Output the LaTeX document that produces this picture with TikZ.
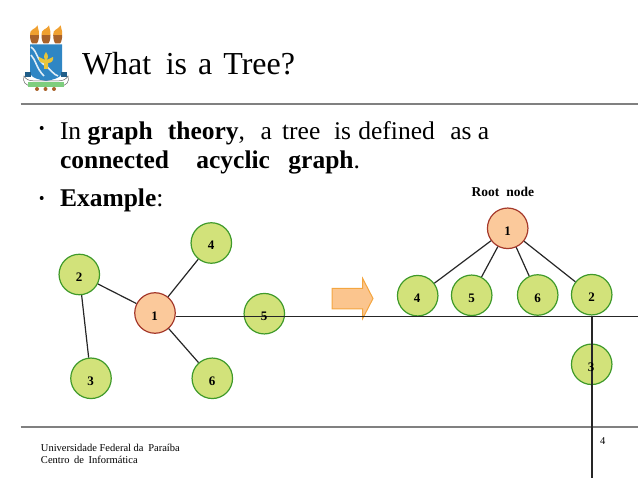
\documentclass[tikz,border=0pt]{standalone}
\usepackage{fontspec}
\setmainfont{Liberation Serif}
\usetikzlibrary{calc}
\definecolor{leaf}{HTML}{D2E27A}
\definecolor{leafline}{HTML}{3F9A2A}
\definecolor{rootf}{HTML}{FBC99B}
\definecolor{rootl}{HTML}{A5392B}
\definecolor{arrowf}{HTML}{FBC58E}
\definecolor{arrowl}{HTML}{F4A640}
\definecolor{rulec}{HTML}{808080}
\definecolor{shield}{HTML}{2F86C4}
\definecolor{torch}{HTML}{A9622A}
\definecolor{flame}{HTML}{F0A030}
\definecolor{gold}{HTML}{E8C53A}
\newcommand{\gap}[1]{\hspace{#1pt}}
\tikzset{
  leafn/.style={circle,draw=leafline,fill=leaf,line width=1.2pt,minimum size=40.5pt,inner sep=0pt},
  rootn/.style={circle,draw=rootl,fill=rootf,line width=1.2pt,minimum size=40.5pt,inner sep=0pt},
  edge/.style={black!85,line width=1.2pt},
  rulel/.style={rulec,line width=1.5pt},
  txt/.style={anchor=base west,inner sep=0pt,outer sep=0pt},
  num/.style={inner sep=0pt,font=\fontsize{13}{13}\selectfont\bfseries},
  bodyt/.style={txt,font=\fontsize{25.5}{25.5}\selectfont},
  foot/.style={txt,font=\fontsize{10.5}{10.5}\selectfont},
  bul/.style={circle,fill=black,inner sep=0pt,minimum size=4pt},
}
\begin{document}
\begin{tikzpicture}[x=1pt,y=-1pt]
\useasboundingbox (0,0) rectangle (638,478);
% header / footer rules
\coordinate (tl) at (20.7,104); \coordinate (tr) at (638,104);
\coordinate (fl) at (20.7,427); \coordinate (fr) at (638,427);
\draw[rulel] (tl) -- (tr);
\draw[rulel] (fl) -- (fr);
% logo
\foreach \x in {34.5,46,57.7}{
  \fill[torch] (\x-4.5,35) -- (\x+4.5,35) .. controls (\x+4.5,40) and (\x+3,43.5) .. (\x+2,43.5) -- (\x-2,43.5) .. controls (\x-3,43.5) and (\x-4.5,40) .. (\x-4.5,35) -- cycle;
  \fill[flame] (\x-4.5,35) .. controls (\x-5,29) and (\x,30) .. (\x+3,25.5) .. controls (\x+3,29) and (\x+5,30) .. (\x+4.5,35) -- cycle;
}
\fill[shield] (30,44.5) -- (62,44.5) -- (62,72) .. controls (62,78) and (52,80) .. (46,81) .. controls (40,80) and (30,78) .. (30,72) -- cycle;
\draw[white!85!shield,line width=1.6pt] (31,47) .. controls (38,52) and (36,60) .. (46,66) .. controls (50,69) and (54,75) .. (58,76);
\draw[white!85!shield,line width=1.6pt] (31,55) .. controls (36,60) and (36,68) .. (44,76);
\fill[gold] (46,52) .. controls (49,56) and (48,58) .. (47,60) -- (53,57) .. controls (54,61) and (51,63) .. (48,63) -- (48,69) -- (44,69) -- (44,63) .. controls (41,63) and (38,61) .. (39,57) -- (45,60) .. controls (44,58) and (43,56) .. (46,52) -- cycle;
\fill[shield!70!black] (25,72) rectangle (31,77);
\fill[shield!70!black] (61,72) rectangle (67,77);
\draw[black!60,fill=white,line width=.5pt] (24,76) .. controls (28,83) and (35,80) .. (46,81) .. controls (57,80) and (64,83) .. (68,76) .. controls (70,82) and (66,86) .. (60,86) -- (32,86) .. controls (26,86) and (22,82) .. (24,76) -- cycle;
\fill[green!45!gray!70] (28,82) rectangle (64,87);
\foreach \x in {37,45.5,54}{\fill[torch] (\x,89) circle (2);}
% title and body
\node[txt] at (82,75) {\fontsize{32}{32}\selectfont What\gap{6.5} is\gap{3} a\gap{3} Tree?};
\node[bul] (b1bul) at (41.7,128) {};
\node[bul] (b2bul) at (41.7,198) {};
\node[bodyt] at (60,140) {In \textbf{graph\gap{8.7} theory},\gap{9.3} a\gap{3.7} tree\gap{7.3} is\gap{1} defined\gap{9} as a};
\node[bodyt] at (60,168.3) {\textbf{connected\gap{21} acyclic\gap{12} graph}.};
\node[bodyt] at (60,206.7) {\textbf{Example}:};
\node[txt] at (471.7,196.7) {\fontsize{13.5}{13.5}\selectfont\bfseries Root\gap{3.5} node};
% footer
\node[foot] at (41,451.7) {Universidade Federal da\gap{2} Paraíba};
\node[foot] at (41,464) {Centro\gap{2} de\gap{2} Informática};
\node[foot] at (600,445) {4};
% left tree
\node[rootn] (a1) at (155,313) {};
\node[leafn] (a2) at (79.3,274.5) {};
\node[leafn] (a3) at (91,378.3) {};
\node[leafn] (a4) at (211.3,243) {};
\node[leafn] (a5) at (264.3,313.7) {};
\node[leafn] (a6) at (212.3,378.3) {};
\coordinate (rightend) at (638,316.5);
\draw[edge] (a1) -- (a2);
\draw[edge] (a2) -- (a3);
\draw[edge] (a1) -- (a4);
\draw[edge] (a1) -- (a6);
% arrow
\draw[arrowl,fill=arrowf,line width=1pt] (332,288.5) -- (362.7,288.5) -- (362.7,278.5) -- (373,298.5) -- (362.7,318.5) -- (362.7,309) -- (332,309) -- cycle;
% right tree
\node[rootn] (b1) at (507.7,228.3) {};
\node[leafn] (b4) at (417.7,295.7) {};
\node[leafn] (b5) at (471.7,295.3) {};
\node[leafn] (b6) at (537.7,295) {};
\node[leafn] (b2) at (591.7,294.7) {};
\node[leafn] (b3) at (591.7,364.3) {};
\coordinate (bottomend) at (592,478);
\draw[edge] (b1) -- (b4);
\draw[edge] (b1) -- (b5);
\draw[edge] (b1) -- (b6);
\draw[edge] (b1) -- (b2);
% long lines pass over the nodes
\draw[edge] (a1.east |- rightend) -- (rightend);
\draw[edge] (b2.south -| bottomend) -- (bottomend);
% numbers
\node[num] at (154.5,316) {1};
\node[num] at (79,277) {2};
\node[num] at (90.5,381) {3};
\node[num] at (211,245) {4};
\node[num] at (264,316) {5};
\node[num] at (212,381) {6};
\node[num] at (507.5,231) {1};
\node[num] at (417,298.5) {4};
\node[num] at (471.5,298) {5};
\node[num] at (537.5,298) {6};
\node[num] at (591.5,297) {2};
\node[num] at (591,367.5) {3};
\end{tikzpicture}
\end{document}
